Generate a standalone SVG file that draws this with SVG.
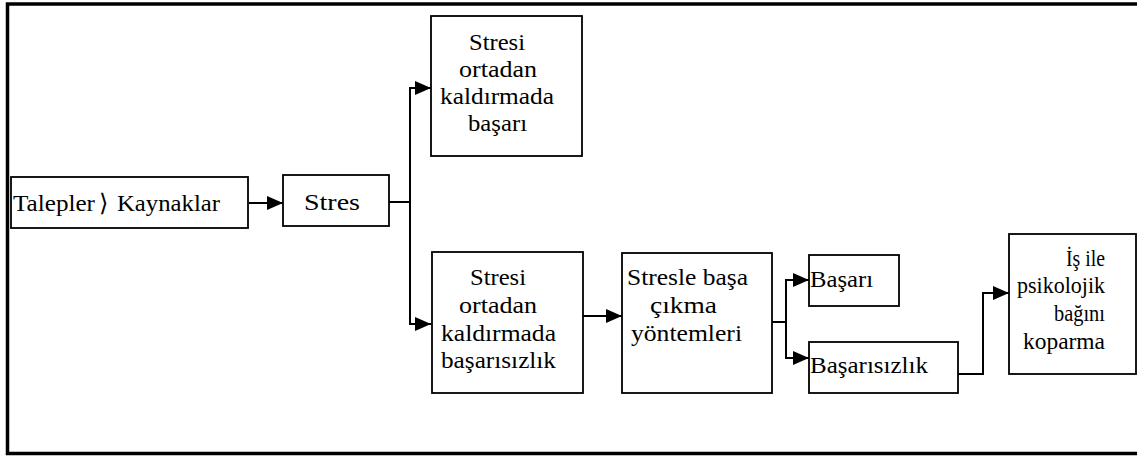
<svg xmlns="http://www.w3.org/2000/svg" width="1137" height="456" viewBox="0 0 1137 456">
<style>
.box{fill:#fff;stroke:#000;stroke-width:1.8}
.t{font-family:"Liberation Serif","DejaVu Serif",serif;font-size:24px;fill:#000}
.ln{fill:none;stroke:#000;stroke-width:2}
</style>
<defs>
<marker id="ah" markerUnits="userSpaceOnUse" markerWidth="17" markerHeight="15" refX="16" refY="7" orient="auto">
<path d="M0,0 L16,7 L0,14 Z" fill="#000"/>
</marker>
</defs>
<rect width="1137" height="456" fill="#fff"/>
<path d="M1137,4 H7.5 V453.5 H1137" fill="none" stroke="#000" stroke-width="3.5"/>
<g id="connectors">
<line class="ln" x1="249" y1="203" x2="283" y2="203" marker-end="url(#ah)"/>
<path class="ln" d="M389,202 H410"/>
<path class="ln" d="M410,202 V88 H431" marker-end="url(#ah)"/>
<path class="ln" d="M410,202 V324 H431" marker-end="url(#ah)"/>
<line class="ln" x1="583" y1="316" x2="622" y2="316" marker-end="url(#ah)"/>
<path class="ln" d="M772,322 H786"/>
<path class="ln" d="M786,322 V280 H809" marker-end="url(#ah)"/>
<path class="ln" d="M786,322 V358 H809" marker-end="url(#ah)"/>
<path class="ln" d="M958,374 H983 V293 H1009" marker-end="url(#ah)"/>
</g>
<g id="n1"><rect class="box" x="11" y="177" width="237" height="51"/><text class="t" y="211"><tspan x="13" textLength="82" lengthAdjust="spacingAndGlyphs">Talepler</tspan><tspan x="99">⟩</tspan><tspan x="117" textLength="103" lengthAdjust="spacingAndGlyphs">Kaynaklar</tspan></text></g>
<g id="n2"><rect class="box" x="283" y="175" width="106" height="51"/><text class="t" x="304" y="210" textLength="56" lengthAdjust="spacingAndGlyphs">Stres</text></g>
<g id="n3"><rect class="box" x="431" y="16" width="151" height="140"/>
<text class="t" x="469" y="50" textLength="56" lengthAdjust="spacingAndGlyphs">Stresi</text>
<text class="t" x="459" y="77" textLength="78" lengthAdjust="spacingAndGlyphs">ortadan</text>
<text class="t" x="440" y="104" textLength="114" lengthAdjust="spacingAndGlyphs">kaldırmada</text>
<text class="t" x="468" y="131" textLength="59" lengthAdjust="spacingAndGlyphs">başarı</text></g>
<g id="n4"><rect class="box" x="432" y="252" width="151" height="141"/>
<text class="t" x="470" y="285" textLength="56" lengthAdjust="spacingAndGlyphs">Stresi</text>
<text class="t" x="459" y="313" textLength="78" lengthAdjust="spacingAndGlyphs">ortadan</text>
<text class="t" x="441" y="341" textLength="115" lengthAdjust="spacingAndGlyphs">kaldırmada</text>
<text class="t" x="441" y="368" textLength="115" lengthAdjust="spacingAndGlyphs">başarısızlık</text></g>
<g id="n5"><rect class="box" x="622" y="253" width="150" height="140"/>
<text class="t" x="627" y="285" textLength="121" lengthAdjust="spacingAndGlyphs">Stresle başa</text>
<text class="t" x="650" y="313" textLength="67" lengthAdjust="spacingAndGlyphs">çıkma</text>
<text class="t" x="631" y="341" textLength="111" lengthAdjust="spacingAndGlyphs">yöntemleri</text></g>
<g id="n6"><rect class="box" x="809" y="255" width="90" height="51"/><text class="t" x="810" y="287" textLength="63" lengthAdjust="spacingAndGlyphs">Başarı</text></g>
<g id="n7"><rect class="box" x="809" y="342" width="149" height="51"/><text class="t" x="810" y="373" textLength="118" lengthAdjust="spacingAndGlyphs">Başarısızlık</text></g>
<g id="n8"><rect class="box" x="1009" y="234" width="127" height="140"/>
<text class="t" x="1066" y="266" textLength="39" lengthAdjust="spacingAndGlyphs">İş ile</text>
<text class="t" x="1017" y="293" textLength="88" lengthAdjust="spacingAndGlyphs">psikolojik</text>
<text class="t" x="1054" y="321" textLength="51" lengthAdjust="spacingAndGlyphs">bağını</text>
<text class="t" x="1023" y="349" textLength="82" lengthAdjust="spacingAndGlyphs">koparma</text></g>
</svg>
